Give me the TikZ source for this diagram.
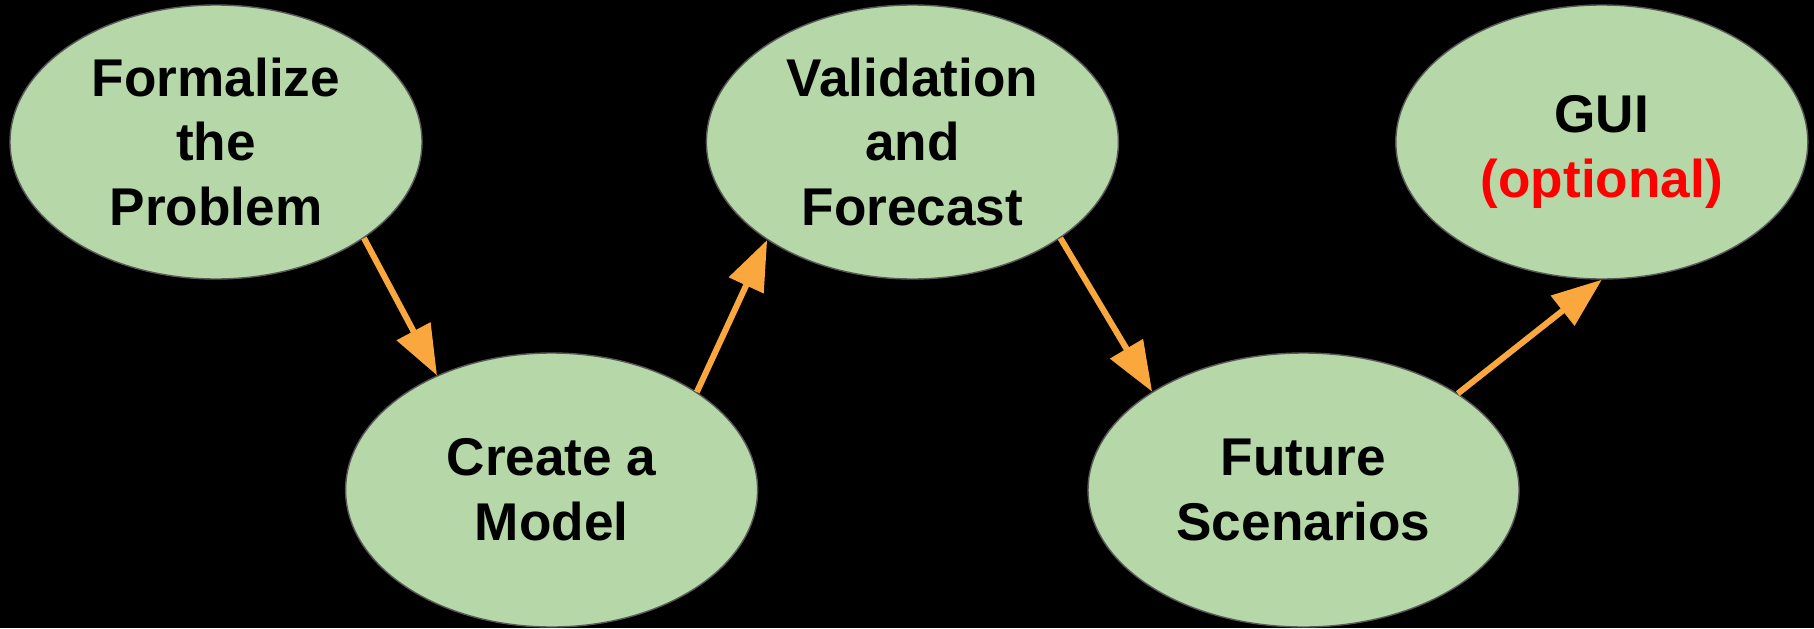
\documentclass[tikz,border=0pt]{standalone}
\usepackage{fontspec}
\setmainfont{Liberation Sans}
\usetikzlibrary{arrows.meta, positioning, shapes.geometric}
\definecolor{stage_green}{HTML}{B6D7A8}
\definecolor{stage_line}{HTML}{595959}
\definecolor{flow_orange}{RGB}{250,168,62}
\tikzstyle{model_stage}=[ellipse, draw=stage_line, line width=1pt, fill=stage_green,
   align=center, minimum width=10.3cm, minimum height=6.85cm, inner sep=0pt,
   font=\fontsize{37.8}{46}\selectfont\bfseries]
\tikzstyle{flow_arrow}=[draw=flow_orange, line width=4.3pt,
   -{Triangle[length=35.6pt, width=26.3pt]}]

\begin{document}
\begin{tikzpicture}

% black page
\fill[black] (0,0) rectangle (45.35,-15.7);
\useasboundingbox (0,0) rectangle (45.35,-15.7);

% top row
\node [model_stage] (formalize)                                  at (5.4,-3.55) {Formalize\\the\\Problem};
\node [model_stage] (validation) [right=7.075cm of formalize]     {Validation\\and\\Forecast};
\node [model_stage, text height=3.04cm] (gui) [right=6.9cm of validation] {GUI\\\textcolor{red}{(optional)}};

% bottom row
\node [model_stage] (model)                                      at (13.79,-12.25) {Create a\\Model};
\node [model_stage, minimum width=10.775cm] (future) [right=8.225cm of model]     {Future\\Scenarios};

% workflow arrows
\draw[flow_arrow] (formalize.-33.7) to (model.135.6);
\draw[flow_arrow] (model.34) to (validation.214);
\draw[flow_arrow] (validation.-33.7) to (future.147.3);
\draw[flow_arrow] (future.32.5) to (gui.-90);

\end{tikzpicture}
\end{document}
